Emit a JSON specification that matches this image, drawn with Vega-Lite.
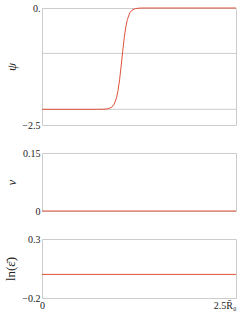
{
  "$schema": "https://vega.github.io/schema/vega-lite/v6.json",
  "padding": {"left": 3, "top": 2, "right": 3, "bottom": 0},
  "spacing": 28,
  "bounds": "flush",
  "background": "white",
  "config": {
    "view": {"stroke": "#cccccc", "strokeWidth": 1},
    "font": "Liberation Serif",
    "axis": {
      "domain": false, "ticks": false, "grid": false,
      "labelFont": "Liberation Serif", "labelFontSize": 10, "labelColor": "#222222",
      "titleFont": "Liberation Serif", "titleColor": "#222222", "titleFontWeight": "normal",
      "titleFontSize": 13, "labelPadding": 2
    }
  },
  "datasets": {
    "psi": [
      {"x": 0, "y": -2.165}, {"x": 0.7, "y": -2.165}, {"x": 0.8, "y": -2.1625},
      {"x": 0.85, "y": -2.154}, {"x": 0.9, "y": -2.119}, {"x": 0.93, "y": -2.057},
      {"x": 0.96, "y": -1.92}, {"x": 0.98, "y": -1.76}, {"x": 1.0, "y": -1.531},
      {"x": 1.02, "y": -1.241}, {"x": 1.04, "y": -0.924}, {"x": 1.06, "y": -0.634},
      {"x": 1.08, "y": -0.405}, {"x": 1.1, "y": -0.245}, {"x": 1.13, "y": -0.108},
      {"x": 1.16, "y": -0.046}, {"x": 1.2, "y": -0.0145}, {"x": 1.25, "y": -0.003},
      {"x": 1.3, "y": 0}, {"x": 2.5, "y": 0}
    ],
    "grid1": [{"y": -0.97}, {"y": -2.165}],
    "flat": [{"x": 0, "y": 0}, {"x": 2.5, "y": 0}]
  },
  "vconcat": [
    {
      "width": 194, "height": 117,
      "layer": [
        {
          "data": {"name": "grid1"},
          "mark": {"type": "rule", "color": "#cccccc", "strokeWidth": 1},
          "encoding": {
            "y": {"field": "y", "type": "quantitative", "scale": {"domain": [-2.5, 0], "nice": false},
              "axis": {"values": [-2.5, 0], "labelExpr": "datum.value == 0 ? '0.' : '−2.5'", "labelFont": "Liberation Serif", "titleFont": "Liberation Serif", "title": "ψ", "titleFontStyle": "italic", "titleX": -31, "titleBaseline": "middle"}}
          }
        },
        {
          "data": {"name": "psi"},
          "mark": {"type": "line", "color": "#e0523a", "strokeWidth": 1, "clip": false},
          "encoding": {
            "x": {"field": "x", "type": "quantitative", "scale": {"domain": [0, 2.5], "nice": false}, "axis": null},
            "y": {"field": "y", "type": "quantitative", "scale": {"domain": [-2.5, 0], "nice": false},
              "axis": {"values": [-2.5, 0], "labelExpr": "datum.value == 0 ? '0.' : '−2.5'", "labelFont": "Liberation Serif", "titleFont": "Liberation Serif", "title": "ψ", "titleFontStyle": "italic", "titleX": -31, "titleBaseline": "middle"}}
          }
        }
      ]
    },
    {
      "width": 194, "height": 58,
      "data": {"name": "flat"},
      "mark": {"type": "line", "color": "#e0523a", "strokeWidth": 1, "clip": false},
      "encoding": {
        "x": {"field": "x", "type": "quantitative", "scale": {"domain": [0, 2.5], "nice": false}, "axis": null},
        "y": {"field": "y", "type": "quantitative", "scale": {"domain": [0, 0.15], "nice": false},
          "axis": {"values": [0, 0.15], "labelExpr": "datum.value == 0 ? '0' : '0.15'", "labelFont": "Liberation Serif", "titleFont": "Liberation Serif", "title": "ν", "titleFontStyle": "italic", "titleX": -31, "titleBaseline": "middle"}}
      }
    },
    {
      "width": 194, "height": 59,
      "data": {"name": "flat"},
      "mark": {"type": "line", "color": "#e0523a", "strokeWidth": 1, "clip": false},
      "encoding": {
        "x": {"field": "x", "type": "quantitative", "scale": {"domain": [0, 2.5], "nice": false},
          "axis": {"values": [0, 2.5], "labelExpr": "datum.value == 0 ? '0' : '2.5R̄₀'", "labelFont": "Liberation Serif", "title": null, "labelFlush": false,
            "labelAlign": {"condition": {"test": "datum.value == 0", "value": "center"}, "value": "right"}}},
        "y": {"field": "y", "type": "quantitative", "scale": {"domain": [-0.2, 0.3], "nice": false},
          "axis": {"values": [-0.2, 0.3], "labelExpr": "datum.value == 0.3 ? '0.3' : '−0.2'", "labelFont": "Liberation Serif", "titleFont": "Liberation Serif", "title": "ln(ε̄)", "titleX": -32, "titleBaseline": "middle"}}
      }
    }
  ]
}
